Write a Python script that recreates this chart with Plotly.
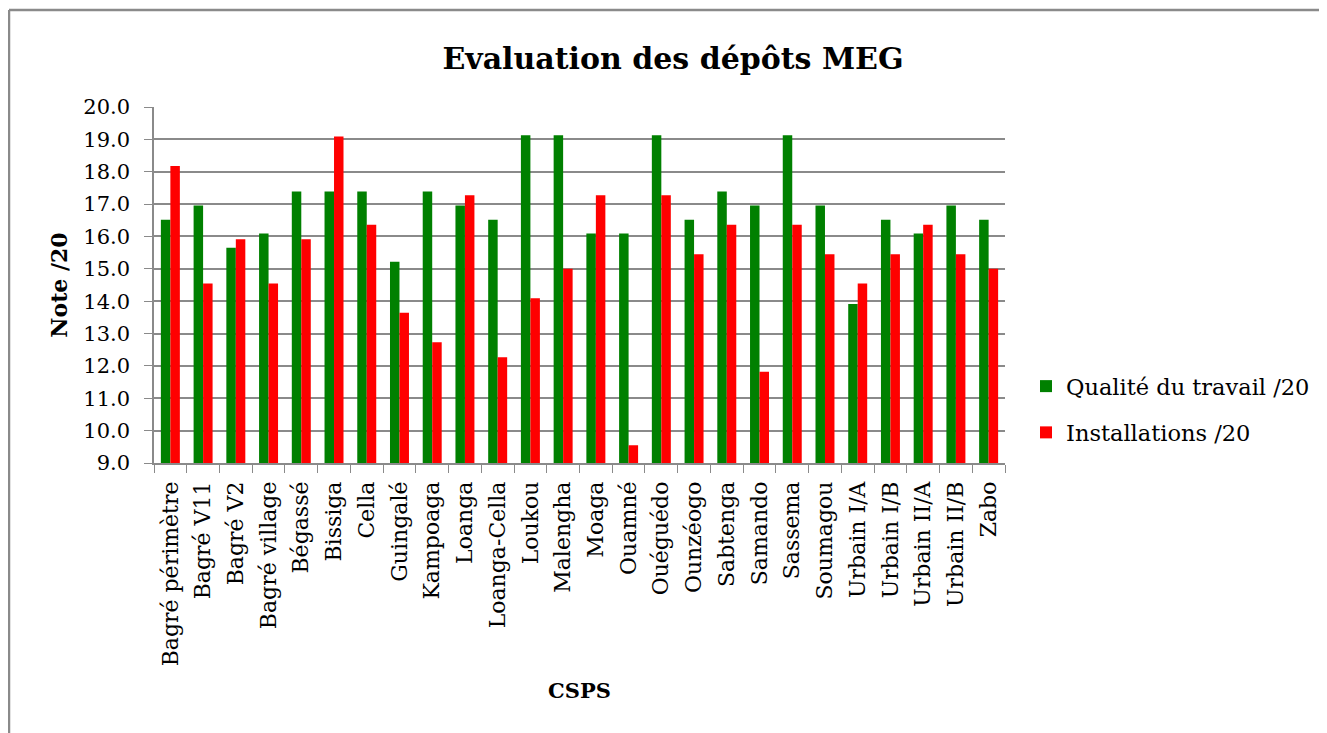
import plotly.graph_objects as go

csps = ["Bagré périmètre", "Bagré V11", "Bagré V2", "Bagré village", "Bégassé",
        "Bissiga", "Cella", "Guingalé", "Kampoaga", "Loanga", "Loanga-Cella",
        "Loukou", "Malengha", "Moaga", "Ouamné", "Ouéguédo", "Ounzéogo",
        "Sabtenga", "Samando", "Sassema", "Soumagou", "Urbain I/A", "Urbain I/B",
        "Urbain II/A", "Urbain II/B", "Zabo"]

qualite = [16.52, 16.96, 15.65, 16.09, 17.39, 17.39, 17.39, 15.22, 17.39, 16.96,
           16.52, 19.13, 19.13, 16.09, 16.09, 19.13, 16.52, 17.39, 16.96, 19.13,
           16.96, 13.91, 16.52, 16.09, 16.96, 16.52]

installations = [18.18, 14.55, 15.91, 14.55, 15.91, 19.09, 16.36, 13.64, 12.73, 17.27,
                 12.27, 14.09, 15.00, 17.27, 9.55, 17.27, 15.45, 16.36, 11.82, 16.36,
                 15.45, 14.55, 15.45, 16.36, 15.45, 15.00]

FONT = "DejaVu Serif"
GRID = "#8a8a8a"

fig = go.Figure()
fig.add_trace(go.Bar(x=csps, y=qualite, name="Qualité du travail /20",
                     marker=dict(color="#008000", line=dict(width=0)),
                     legendgroup="a"))
fig.add_trace(go.Bar(x=csps, y=installations, name="Installations /20",
                     marker=dict(color="#ff0000", line=dict(width=0)),
                     legendgroup="b"))

# figure sized to fit the page next to the 8px body margin
FW, FH = 1319, 725
L, R, T, B = 146, 997, 99, 455
W, H = R - L, B - T

def px(x):
    return (x - L) / W

def py(y):
    return (B - y) / H

fig.update_layout(
    width=FW, height=FH,
    margin=dict(l=L, r=FW - R, t=T, b=FH - B),
    paper_bgcolor="white", plot_bgcolor="white",
    barmode="group", bargap=0.42, bargroupgap=0,
    font=dict(family=FONT, color="black", size=21),
    title=dict(text="<b>Evaluation des dépôts MEG</b>", x=665 / FW,
               xref="container", xanchor="center", y=1 - 50 / FH,
               yanchor="middle", font=dict(family=FONT, size=30)),
    legend=dict(x=px(1018), y=py(357), xanchor="left", yanchor="top",
                font=dict(family=FONT, size=22.5), tracegroupgap=14,
                itemwidth=30, bgcolor="rgba(0,0,0,0)"),
    showlegend=True,
)

fig.update_yaxes(range=[9, 20], dtick=1, tick0=9, tickformat=".1f",
                 showgrid=True, gridcolor=GRID, gridwidth=1.5,
                 showline=True, linecolor=GRID, linewidth=1.5,
                 ticks="outside", ticklen=8, tickcolor=GRID,
                 ticklabelstandoff=10,
                 tickfont=dict(family=FONT, size=21),
                 title=dict(text="<b>Note /20</b>", standoff=10,
                            font=dict(family=FONT, size=22)),
                 zeroline=False)
fig.update_xaxes(showline=True, linecolor=GRID, linewidth=1.5,
                 ticks="outside", ticklen=8, tickcolor=GRID,
                 tickson="boundaries", tickangle=-90,
                 ticklabelstandoff=8,
                 tickfont=dict(family=FONT, size=22),
                 title=dict(text="<b>CSPS</b>", standoff=18,
                            font=dict(family=FONT, size=21)))

# outer chart border (top and left edges visible)
fig.add_shape(type="line", xref="paper", yref="paper",
              x0=px(1), x1=px(FW), y0=py(2), y1=py(2),
              line=dict(color=GRID, width=2.5))
fig.add_shape(type="line", xref="paper", yref="paper",
              x0=px(1), x1=px(1), y0=py(2), y1=py(FH),
              line=dict(color=GRID, width=2.5))

fig.write_html("out.html", config={"displayModeBar": False})
